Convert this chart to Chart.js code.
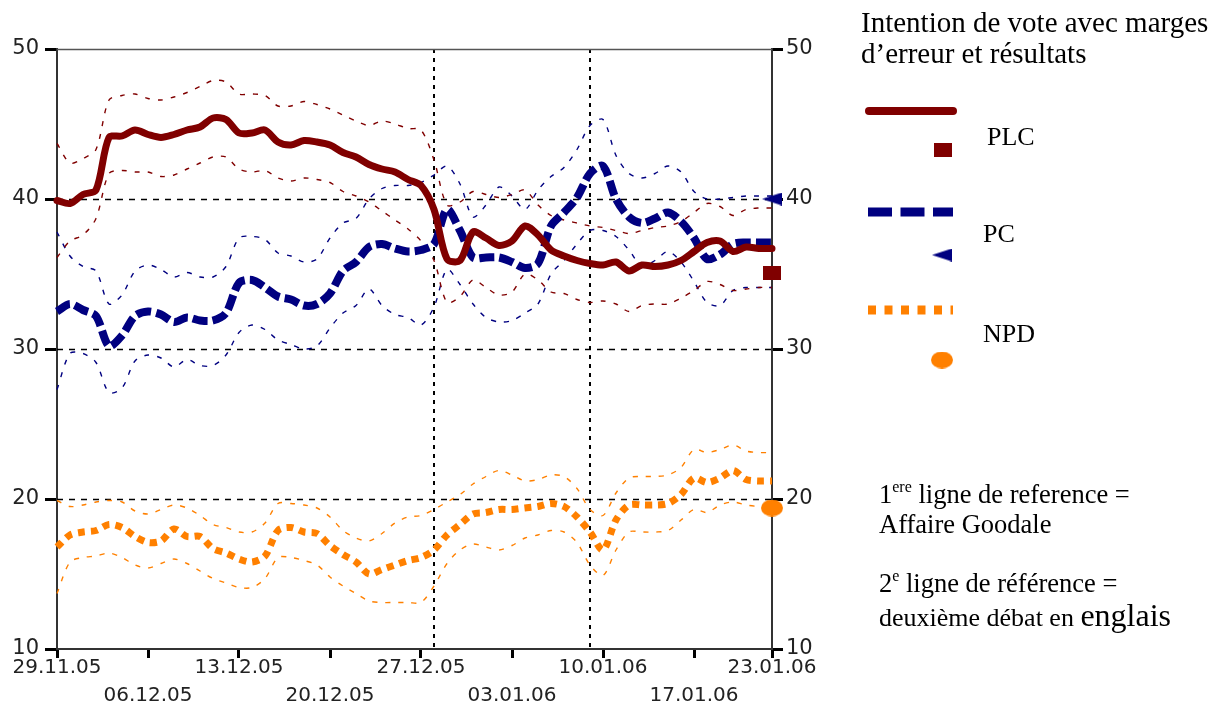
<!DOCTYPE html>
<html lang="fr">
<head>
<meta charset="utf-8">
<title>Intention de vote avec marges d'erreur et résultats</title>
<script src="https://cdn.jsdelivr.net/npm/chart.js@4/dist/chart.umd.min.js"></script>
<style>
  html, body { margin: 0; padding: 0; background: #fff; }
  #wrap { position: relative; width: 1226px; height: 707px; }
  canvas { display: block; }
</style>
</head>
<body>
<div id="wrap"><canvas id="chart" width="1226" height="707"></canvas></div>
<script>
// Daily poll averages, 29.11.05 (day 0) to 23.01.06 (day 55)
const plcValues = [39.9, 39.7, 40.3, 40.6, 44.1, 44.2, 44.6, 44.3, 44.1, 44.3,
  44.6, 44.8, 45.4, 45.3, 44.4, 44.4, 44.6, 43.8, 43.6, 43.9,
  43.8, 43.6, 43.1, 42.8, 42.3, 42.0, 41.8, 41.3, 40.9, 39.3,
  36.0, 35.9, 37.8, 37.4, 36.9, 37.2, 38.2, 37.6, 36.6, 36.2,
  35.9, 35.7, 35.6, 35.8, 35.2, 35.6, 35.5, 35.6, 35.9, 36.5,
  37.1, 37.2, 36.5, 36.8, 36.7, 36.7];
const plcUpper = [43.7, 42.4, 42.7, 43.3, 46.6, 46.9, 47.0, 46.7, 46.6, 46.8,
  47.1, 47.5, 47.9, 47.8, 47.0, 47.0, 46.9, 46.2, 46.2, 46.5,
  46.3, 46.0, 45.6, 45.2, 44.9, 45.2, 45.0, 44.7, 44.6, 42.6,
  39.6, 39.8, 40.5, 40.3, 40.1, 40.3, 40.6, 39.6, 38.9, 38.6,
  38.4, 38.2, 38.1, 37.9, 37.7, 37.9, 38.1, 38.2, 38.5, 39.1,
  39.7, 39.5, 38.9, 39.3, 39.4, 39.4];
const plcLower = [36.1, 37.2, 37.6, 38.7, 41.7, 41.9, 41.8, 41.8, 41.5, 41.6,
  42.0, 42.4, 42.8, 42.8, 42.0, 41.8, 41.9, 41.4, 41.2, 41.4,
  41.3, 41.1, 40.5, 40.2, 39.8, 39.2, 38.6, 38.0, 37.2, 35.9,
  33.1, 33.5, 34.6, 34.1, 33.6, 33.8, 35.0, 34.6, 33.8, 33.7,
  33.3, 33.1, 33.2, 33.0, 32.5, 32.9, 33.0, 33.0, 33.4, 33.9,
  34.5, 34.3, 33.9, 34.0, 34.1, 34.1];

const pcValues = [32.5, 33.0, 32.6, 32.2, 30.2, 30.9, 32.2, 32.5, 32.3, 31.8,
  32.1, 31.9, 31.9, 32.4, 34.4, 34.6, 34.1, 33.5, 33.3, 32.9,
  33.0, 33.7, 35.2, 35.8, 36.8, 37.0, 36.7, 36.5, 36.6, 37.0,
  39.3, 37.9, 36.1, 36.1, 36.1, 35.8, 35.4, 35.7, 38.2, 39.1,
  40.1, 41.7, 42.2, 40.0, 38.8, 38.4, 38.7, 39.1, 38.5, 37.4,
  36.0, 36.3, 37.0, 37.1, 37.1, 37.1];
const pcUpper = [37.8, 36.2, 35.5, 35.2, 33.0, 33.6, 35.2, 35.6, 35.3, 34.8,
  35.1, 34.8, 34.8, 35.5, 37.4, 37.5, 37.3, 36.4, 36.2, 35.8,
  36.0, 37.4, 38.4, 38.7, 40.0, 40.7, 40.9, 40.9, 41.1, 41.6,
  42.2, 41.0, 38.8, 39.6, 40.8, 40.2, 39.3, 40.6, 41.5, 42.1,
  43.3, 44.9, 45.3, 42.9, 41.7, 41.4, 41.7, 42.2, 41.8, 40.5,
  40.0, 40.0, 40.1, 40.2, 40.2, 40.2];
const pcLower = [27.3, 29.7, 29.7, 29.1, 27.1, 27.4, 29.2, 29.6, 29.4, 28.8,
  29.3, 28.9, 28.9, 29.6, 31.1, 31.6, 31.3, 30.6, 30.3, 30.0,
  30.2, 31.4, 32.4, 32.9, 34.0, 32.9, 32.3, 32.1, 31.6, 32.8,
  35.3, 34.3, 33.0, 32.1, 31.8, 31.9, 32.4, 33.0, 35.0, 35.9,
  37.0, 37.9, 37.9, 37.5, 36.6, 35.5, 35.9, 36.5, 35.8, 34.5,
  33.1, 32.9, 33.9, 34.1, 34.1, 34.1];

const npdValues = [16.8, 17.6, 17.8, 17.9, 18.3, 18.1, 17.5, 17.1, 17.2, 18.0,
  17.5, 17.5, 16.7, 16.4, 16.0, 15.8, 16.2, 17.9, 18.1, 17.8,
  17.7, 16.9, 16.3, 15.8, 15.0, 15.3, 15.6, 15.9, 16.1, 16.6,
  17.6, 18.3, 19.0, 19.1, 19.3, 19.3, 19.4, 19.5, 19.7, 19.5,
  18.8, 17.8, 16.6, 18.6, 19.6, 19.6, 19.6, 19.7, 20.3, 21.4,
  21.1, 21.4, 21.9, 21.3, 21.2, 21.2];
const npdUpper = [19.9, 19.5, 19.6, 19.8, 19.9, 19.8, 19.2, 19.0, 19.3, 19.6,
  19.4, 18.9, 18.3, 18.1, 17.8, 17.8, 18.4, 19.7, 19.7, 19.6,
  19.4, 18.8, 17.9, 17.4, 17.2, 17.7, 18.4, 18.8, 18.9, 19.3,
  19.8, 20.3, 21.0, 21.5, 21.9, 21.6, 21.2, 21.3, 21.6, 21.5,
  20.7, 19.3, 18.9, 20.4, 21.4, 21.5, 21.5, 21.6, 22.1, 23.3,
  23.1, 23.3, 23.6, 23.2, 23.1, 23.1];
const npdLower = [13.7, 15.8, 16.1, 16.2, 16.4, 16.1, 15.6, 15.4, 15.7, 16.0,
  15.7, 15.2, 14.7, 14.4, 14.1, 14.1, 14.7, 16.1, 16.1, 15.9,
  15.6, 14.8, 14.2, 13.7, 13.2, 13.1, 13.1, 13.1, 13.1, 14.2,
  15.7, 16.6, 17.0, 16.8, 16.6, 16.9, 17.4, 17.6, 17.9, 17.8,
  17.1, 15.6, 14.9, 16.6, 17.8, 17.8, 17.8, 17.9, 18.6, 19.3,
  19.1, 19.6, 19.8, 19.6, 19.5, 19.5];

// Election results, plotted on the last day
const partyNames = ['PLC', 'PC', 'NPD'];
const resultValues = [35.1, 40.0, 19.4];
const resultDay = 55;

// Axis ticks
const tickDays = [0, 7, 14, 21, 28, 35, 42, 49, 55];
const tickLabels = ['29.11.05', '06.12.05', '13.12.05', '20.12.05', '27.12.05',
  '03.01.06', '10.01.06', '17.01.06', '23.01.06'];
const yTicks = [10, 20, 30, 40, 50];
const gridValues = [20, 30, 40];
// Reference events: Goodale affair, second English debate
const referenceDays = [29, 41];

const PLC_COLOR = '#800000';
const PC_COLOR = '#000080';
const NPD_COLOR = '#ff8000';
const SERIF = '"Liberation Serif", "Times New Roman", serif';

const toPoints = arr => arr.map((v, i) => ({ x: i, y: v }));

function makeMarker(w, h, color, shape) {
  const c = document.createElement('canvas');
  c.width = w; c.height = h;
  const g = c.getContext('2d');
  g.fillStyle = color;
  g.beginPath();
  if (shape === 'rect') {
    g.rect(0, 0, w, h);
  } else if (shape === 'tri') {
    g.moveTo(0, h / 2); g.lineTo(w, 0); g.lineTo(w, h); g.closePath();
  } else {
    g.ellipse(w / 2, h / 2, w / 2, h / 2, 0, 0, Math.PI * 2);
  }
  g.fill();
  return c;
}
const markers = [
  makeMarker(18, 14, PLC_COLOR, 'rect'),
  makeMarker(20, 13, PC_COLOR, 'tri'),
  makeMarker(22, 17, NPD_COLOR, 'ellipse')
];
const colors = [PLC_COLOR, PC_COLOR, NPD_COLOR];

const resultSets = resultValues.map((v, i) => ({
  label: partyNames[i] + ' résultat',
  data: [{ x: resultDay, y: v }],
  showLine: false,
  pointStyle: markers[i],
  pointRadius: 10,
  pointHoverRadius: 10,
  borderColor: colors[i],
  backgroundColor: colors[i],
  clip: false
}));

function mainLine(label, values, color, width, dash, cap) {
  return {
    label, data: toPoints(values),
    borderColor: color, backgroundColor: color,
    borderWidth: width, borderDash: dash, borderCapStyle: cap,
    borderJoinStyle: 'round', pointRadius: 0, tension: 0.3, fill: false, clip: false
  };
}
function boundLine(label, values, color) {
  return {
    label, data: toPoints(values),
    borderColor: color, borderWidth: 1.4, borderDash: [5, 8],
    pointRadius: 0, tension: 0.3, fill: false, clip: false
  };
}

const datasets = [
  ...resultSets,
  mainLine('PLC', plcValues, PLC_COLOR, 7, [], 'round'),
  mainLine('PC', pcValues, PC_COLOR, 8, [15, 5], 'butt'),
  mainLine('NPD', npdValues, NPD_COLOR, 7, [7, 6], 'butt'),
  boundLine('PLC haut', plcUpper, PLC_COLOR),
  boundLine('PLC bas', plcLower, PLC_COLOR),
  boundLine('PC haut', pcUpper, PC_COLOR),
  boundLine('PC bas', pcLower, PC_COLOR),
  boundLine('NPD haut', npdUpper, NPD_COLOR),
  boundLine('NPD bas', npdLower, NPD_COLOR)
];

// Dashed horizontal grid, dotted event lines and the top frame edge
const framePlugin = {
  id: 'frame',
  beforeDatasetsDraw(chart) {
    const { ctx, chartArea: a, scales } = chart;
    ctx.save();
    ctx.strokeStyle = '#000';
    ctx.lineWidth = 1.5;
    ctx.setLineDash([6, 6]);
    gridValues.forEach(v => {
      const y = Math.round(scales.y.getPixelForValue(v)) + 0.5;
      ctx.beginPath(); ctx.moveTo(a.left, y); ctx.lineTo(a.right, y); ctx.stroke();
    });
    ctx.lineWidth = 2;
    ctx.setLineDash([4, 5]);
    referenceDays.forEach(d => {
      const x = Math.round(scales.x.getPixelForValue(d));
      ctx.beginPath(); ctx.moveTo(x, a.top); ctx.lineTo(x, a.bottom); ctx.stroke();
    });
    ctx.setLineDash([]);
    ctx.strokeStyle = '#555';
    ctx.lineWidth = 1.5;
    ctx.beginPath(); ctx.moveTo(a.left, a.top + 0.5); ctx.lineTo(a.right, a.top + 0.5); ctx.stroke();
    ctx.restore();
  }
};

function drawRuns(ctx, x, y, runs) {
  runs.forEach(r => {
    ctx.font = r.size + 'px ' + SERIF;
    ctx.fillText(r.text, x, y + (r.dy || 0));
    x += ctx.measureText(r.text).width;
  });
}

// Side panel: title, legend and notes
const panelPlugin = {
  id: 'panel',
  afterDraw(chart) {
    const ctx = chart.ctx;
    ctx.save();
    ctx.fillStyle = '#000';
    ctx.textBaseline = 'alphabetic';
    ctx.textAlign = 'left';
    ctx.font = '29px ' + SERIF;
    ctx.fillText('Intention de vote avec marges', 861, 32);
    ctx.fillText('d\u2019erreur et résultats', 861, 63);

    // PLC sample
    ctx.strokeStyle = PLC_COLOR; ctx.lineWidth = 8; ctx.lineCap = 'round';
    ctx.beginPath(); ctx.moveTo(869, 111); ctx.lineTo(953, 111); ctx.stroke();
    ctx.drawImage(markers[0], 943 - 9, 150 - 7);
    // PC sample
    ctx.lineCap = 'butt';
    ctx.strokeStyle = PC_COLOR; ctx.lineWidth = 9; ctx.setLineDash([24, 8.5]);
    ctx.beginPath(); ctx.moveTo(868, 212); ctx.lineTo(953, 212); ctx.stroke();
    ctx.drawImage(markers[1], 942 - 10, 255 - 6.5);
    // NPD sample
    ctx.strokeStyle = NPD_COLOR; ctx.lineWidth = 9; ctx.setLineDash([8, 8.5]);
    ctx.beginPath(); ctx.moveTo(868, 310); ctx.lineTo(953, 310); ctx.stroke();
    ctx.setLineDash([]);
    ctx.drawImage(markers[2], 942 - 11, 360 - 8.5);

    ctx.font = '26px ' + SERIF;
    ctx.fillText(partyNames[0], 987, 145);
    ctx.fillText(partyNames[1], 983, 242);
    ctx.fillText(partyNames[2], 983, 342);

    drawRuns(ctx, 879, 503, [
      { text: '1', size: 26.5 }, { text: 'ere', size: 16, dy: -11 },
      { text: ' ligne de reference =', size: 26.5 }
    ]);
    drawRuns(ctx, 879, 533, [{ text: 'Affaire Goodale', size: 26.5 }]);
    drawRuns(ctx, 879, 592, [
      { text: '2', size: 26.5 }, { text: 'e', size: 16, dy: -11 },
      { text: ' ligne de référence =', size: 26.5 }
    ]);
    drawRuns(ctx, 879, 626, [
      { text: 'deuxième débat en ', size: 26 }, { text: 'englais', size: 32 }
    ]);
    ctx.restore();
  }
};

const xTickFont = { family: '"DejaVu Sans", sans-serif', size: 20, lineHeight: 1.4 };
const yTickFont = { family: '"DejaVu Sans", sans-serif', size: 21 };

new Chart(document.getElementById('chart'), {
  type: 'line',
  data: { datasets },
  options: {
    responsive: false,
    animation: false,
    devicePixelRatio: 1,
    layout: { padding: { top: 49, left: 0, right: 399, bottom: 0 } },
    plugins: { legend: { display: false }, tooltip: { enabled: false } },
    elements: { line: { borderJoinStyle: 'round' } },
    scales: {
      x: {
        type: 'linear', min: 0, max: 55,
        afterBuildTicks: s => { s.ticks = tickDays.map(v => ({ value: v })); },
        afterFit: s => { s.height = 58; },
        ticks: {
          autoSkip: false, maxRotation: 0, minRotation: 0, padding: -4,
          color: '#222', font: xTickFont,
          callback: (v, i) => (i % 2 === 0 ? tickLabels[i] : ['', tickLabels[i]])
        },
        grid: { display: true, drawOnChartArea: false, drawTicks: true, tickLength: 9, tickWidth: 3, tickColor: '#000' },
        border: { display: true, color: '#333', width: 2 }
      },
      y: {
        type: 'linear', position: 'left', min: 10, max: 50,
        afterBuildTicks: s => { s.ticks = yTicks.map(v => ({ value: v })); },
        afterFit: s => { s.width = 57; },
        ticks: { padding: 6, color: '#222', font: yTickFont },
        grid: { display: true, drawOnChartArea: false, drawTicks: true, tickLength: 12, tickWidth: 3, tickColor: '#000' },
        border: { display: true, color: '#333', width: 2 }
      },
      y2: {
        type: 'linear', position: 'right', min: 10, max: 50,
        afterBuildTicks: s => { s.ticks = yTicks.map(v => ({ value: v })); },
        afterFit: s => { s.width = 55; },
        ticks: { padding: 3, color: '#222', font: yTickFont },
        grid: { display: true, drawOnChartArea: false, drawTicks: true, tickLength: 11, tickWidth: 3, tickColor: '#000' },
        border: { display: true, color: '#333', width: 2 }
      }
    }
  },
  plugins: [framePlugin, panelPlugin]
});
</script>
</body>
</html>
